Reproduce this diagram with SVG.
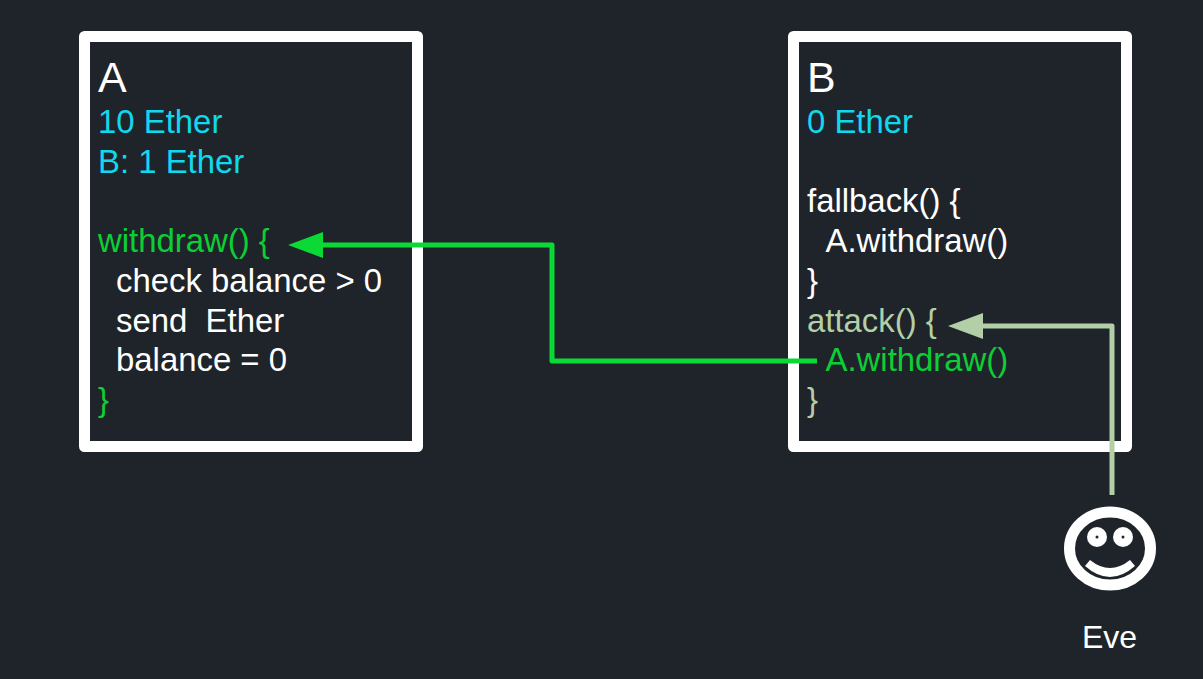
<svg xmlns="http://www.w3.org/2000/svg" width="1203" height="679" viewBox="0 0 1203 679">
<style>
text{font-family:"Liberation Sans",Arial,sans-serif;font-size:32.900px;fill:#fff;white-space:pre}
.t{font-size:43px}
.e{font-size:32px}
.c{fill:#10d8ee}
.g{fill:#0ccf35}
.p{fill:#b2cfa8}
.box{fill:#1f242b;stroke:#fff;stroke-width:11;stroke-linejoin:round}
.line{fill:none;stroke-width:5;stroke-linejoin:round}
</style>
<defs>
<marker id="ag" markerUnits="userSpaceOnUse" markerWidth="36" markerHeight="28" refX="5" refY="13.500" orient="auto"><path d="M0 0.500L35 13.500L0 26.500Z" fill="#0ad936"/></marker>
<marker id="ap" markerUnits="userSpaceOnUse" markerWidth="36" markerHeight="28" refX="5" refY="13.500" orient="auto"><path d="M0 0.500L35 13.500L0 26.500Z" fill="#b2cfa8"/></marker>
</defs>
<rect width="1203" height="679" fill="#1f242b"/>
<g id="node-a">
<rect class="box" x="84.500" y="36.500" width="333" height="410"/>
<text class="t" x="98" y="92">A</text>
<text class="c" x="98" y="133">10 Ether</text>
<text class="c" x="98" y="173">B: 1 Ether</text>
<text class="g" x="98" y="252">withdraw() {</text>
<text x="116" y="292">check balance &gt; 0</text>
<text x="116" y="332">send  Ether</text>
<text x="116" y="371">balance = 0</text>
<text class="g" x="98" y="411">}</text>
</g>
<g id="node-b">
<rect class="box" x="793.500" y="36.500" width="333" height="410"/>
<text class="t" x="807" y="92">B</text>
<text class="c" x="807" y="133">0 Ether</text>
<text x="807" y="212">fallback() {</text>
<text x="825.500" y="252">A.withdraw()</text>
<text x="807" y="292">}</text>
<text class="p" x="807" y="332">attack() {</text>
<text class="g" x="825.500" y="371">A.withdraw()</text>
<text class="p" x="807" y="411">}</text>
</g>
<g id="node-eve">
<ellipse cx="1110" cy="548.500" rx="40.500" ry="36.500" fill="none" stroke="#fff" stroke-width="11"/>
<circle cx="1097" cy="537" r="10" fill="#fff"/>
<circle cx="1123" cy="537" r="10" fill="#fff"/>
<circle cx="1097" cy="537" r="1.500" fill="#1f242b"/>
<circle cx="1123" cy="537" r="1.500" fill="#1f242b"/>
<path d="M1090 560Q1110 576 1130 560L1135 566Q1110 588 1085 566Z" fill="#fff"/>
<text class="e" x="1082" y="648">Eve</text>
</g>
<g id="connectors">
<path class="line" stroke="#0ad936" d="M817 361H552V245H318" marker-end="url(#ag)"/>
<path class="line" stroke="#b2cfa8" d="M1112 495V326H978" marker-end="url(#ap)"/>
</g>
</svg>
